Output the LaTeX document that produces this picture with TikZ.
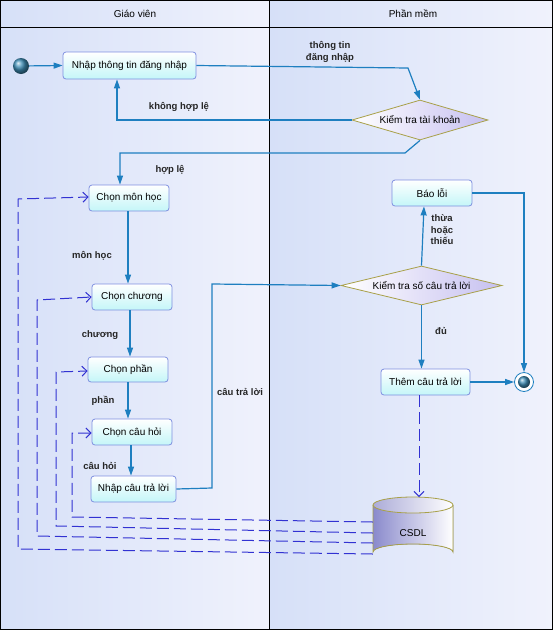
\documentclass[tikz,border=0pt]{standalone}
\usepackage{fontspec}
\setmainfont{Liberation Sans}
\usetikzlibrary{arrows.meta,shapes.geometric,calc}
\definecolor{flow}{HTML}{1E7FC0}
\definecolor{dep}{HTML}{3232D2}
\definecolor{boxline}{HTML}{7F90E0}
\definecolor{olive}{HTML}{A8A048}
\definecolor{laneA}{HTML}{D6E0F8}
\definecolor{laneB}{HTML}{F0F2FC}
\definecolor{dlav}{HTML}{C6C0F0}
\definecolor{cyl}{HTML}{8A8ACC}
\definecolor{cyltop}{HTML}{ACACD8}
\definecolor{boxcyan}{HTML}{C4F6F8}
\definecolor{ball}{HTML}{3F8FB8}
\tikzset{
  actbox/.style={draw=boxline, line width=0.8pt, rounded corners=3pt, top color=white, bottom color=boxcyan, inner sep=0pt, font=\fontsize{10}{12}\selectfont},
  decision/.style={diamond, draw=olive, line width=0.8pt, left color=white, right color=dlav, inner sep=0pt, font=\fontsize{10}{12}\selectfont},
  flowline/.style={draw=flow, line width=1.2pt, -{Triangle[length=9pt,width=6pt]}},
  depline/.style={draw=dep, line width=1pt, dash pattern=on 12pt off 5pt, -{Straight Barb[length=5pt,width=10pt]}},
  lbl/.style={font=\fontsize{9.5}{11.5}\selectfont\bfseries, text=black!85, inner sep=0pt, align=center},
  hdr/.style={font=\fontsize{10}{12}\selectfont, inner sep=0pt}
}
\begin{document}
\begin{tikzpicture}[x=1pt,y=-1pt]
\useasboundingbox (0,0) rectangle (553,630);
% lanes
\fill[left color=laneA, right color=laneB] (0,0) rectangle (269.5,630);
\fill[left color=laneA, right color=laneB] (269.5,0) rectangle (553,630);
\draw[line width=1pt] (0.5,0.5) rectangle (552.5,629.5);
\draw[line width=1pt] (269.5,0.5) -- (269.5,629.5);
\draw[line width=1pt] (0.5,27.5) -- (552.5,27.5);
\node[hdr] (h1) at (135,14) {Giáo viên};
\node[hdr] (h2) at (413,14) {Phần mềm};

% nodes
\node[circle, minimum size=16pt, inner sep=0pt, ball color=ball] (start) at (21,66) {};
\node[actbox, minimum width=133pt, minimum height=27pt] (n1) at (129.5,65.5) {Nhập thông tin đăng nhập};
\node[decision, aspect=3.4, minimum width=136pt, minimum height=40pt] (d1) at (420,120) {Kiểm tra tài khoản};
\node[actbox, minimum width=80pt, minimum height=26pt] (b1) at (129,198) {Chọn môn học};
\node[actbox, minimum width=80pt, minimum height=26pt] (b2) at (132,297) {Chọn chương};
\node[actbox, minimum width=80pt, minimum height=25pt] (b3) at (128,369.5) {Chọn phần};
\node[actbox, minimum width=80pt, minimum height=26pt] (b4) at (132,432) {Chọn câu hỏi};
\node[actbox, minimum width=85pt, minimum height=26pt] (b5) at (133.5,489) {Nhập câu trả lời};
\node[decision, aspect=4, minimum width=161pt, minimum height=39pt] (d2) at (421.5,285.5) {Kiểm tra số câu trả lời};
\node[actbox, minimum width=80pt, minimum height=26pt] (err) at (432,193) {Báo lỗi};
\node[actbox, minimum width=89pt, minimum height=26pt] (add) at (425.5,382) {Thêm câu trả lời};
\node[circle, draw=flow, line width=0.8pt, fill=white, minimum size=19pt, inner sep=0pt] (end) at (524,382) {};
\shade[ball color=ball] (end.center) circle (6pt);

% database cylinder
\fill[left color=cyl, right color=white] (373,505) -- (373,552) arc[start angle=180, end angle=360, x radius=40pt, y radius=-8pt] -- (453,505) -- cycle;
\draw[olive, line width=0.8pt] (373,505) -- (373,552) arc[start angle=180, end angle=360, x radius=40pt, y radius=-8pt] -- (453,505);
\draw[olive, line width=0.8pt, left color=cyltop, right color=white] (413,505) ellipse[x radius=40pt, y radius=8pt];
\node[minimum width=80pt, minimum height=63pt, inner sep=0pt] (db) at (413,529) {};
\node[font=\fontsize{10}{12}\selectfont, inner sep=0pt] (dbl) at (413,533) {CSDL};
\coordinate (dbtop) at (419,497);

% flows
\draw[flowline] (start) -- (n1.west);
\draw[flowline] (n1.east) -- (408,68) -- (d1.north);
\draw[flowline] (d1.west) -| (n1.south -| 117,0);
\draw[flowline] (d1.south) -- (405,153) -- (120,153) -- (b1.north -| 120,0);
\draw[flowline] (b1.south -| 128,0) -- (b2.north -| 128,0);
\draw[flowline] (b2.south -| 130,0) -- (b3.north -| 130,0);
\draw[flowline] (b3.south) -- (b4.north -| 128,0);
\draw[flowline] (b4.south -| 131,0) -- (b5.north -| 131,0);
\draw[flowline] (b5.east) -- (212,488) -- (212,284) -- (d2.west);
\draw[flowline] (d2.north) -- (err.south -| 424,0);
\draw[flowline] (d2.south) -- (d2.south |- add.north);
\draw[flowline] (err.east) -| (end.north);
\draw[flowline] (add.east) -- (end.west);

% dependencies
\draw[depline] (add.south -| 419,0) -- (dbtop);
\draw[depline] (db.west |- 0,522) -- (72,517) -- (72,433) -- (b4.west |- 0,433);
\draw[depline] (db.west |- 0,533) -- (56,526) -- (56,372) -- (b3.west |- 0,371);
\draw[depline] (db.west |- 0,543) -- (37,536) -- (37,300) -- (b2.west |- 0,297);
\draw[depline] (db.west |- 0,554) -- (18,549) -- (18,199) -- (b1.west |- 0,197);

% labels
\node[lbl] (l1) at (330,52) {thông tin\\đăng nhập};
\node[lbl] (l2) at (179,107) {không hợp lệ};
\node[lbl] (l3) at (170,170) {hợp lệ};
\node[lbl] (l4) at (92,256) {môn học};
\node[lbl] (l5) at (100,335) {chương};
\node[lbl] (l6) at (103,401) {phần};
\node[lbl] (l7) at (100,466) {câu hỏi};
\node[lbl] (l8) at (240,392) {câu trả lời};
\node[lbl] (l9) at (442,230) {thừa\\hoặc\\thiếu};
\node[lbl] (l10) at (441,331) {đủ};
\end{tikzpicture}
\end{document}
